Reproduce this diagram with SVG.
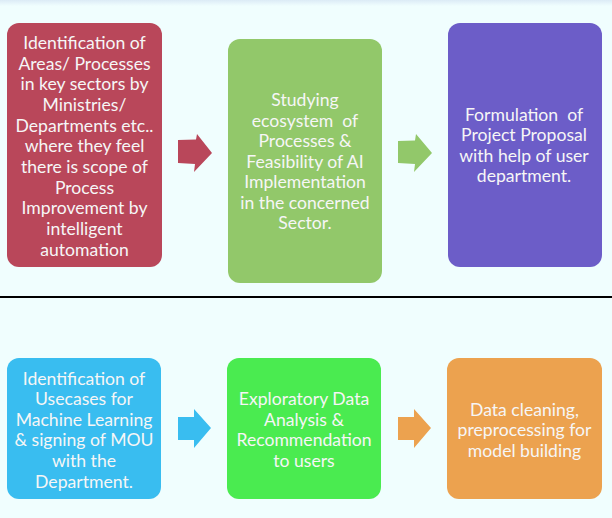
<svg xmlns="http://www.w3.org/2000/svg" width="612" height="518" viewBox="0 0 612 518">
<defs>
<linearGradient id="topband" x1="0" y1="0" x2="0" y2="1">
<stop offset="0" stop-color="#dcebf6"/>
<stop offset="1" stop-color="#f0fefe"/>
</linearGradient>
</defs>
<style>
.box{stroke:none}
.t{font-family:Lato,"Open Sans","Liberation Sans",sans-serif;font-size:17.6px;fill:#f6f6f6;text-anchor:middle;dominant-baseline:central;white-space:pre}
</style>
<rect x="0" y="0" width="612" height="518" fill="#f0fefe"/>
<rect x="0" y="0" width="612" height="6" fill="url(#topband)"/>
<line x1="0" y1="297" x2="612" y2="297" stroke="#000" stroke-width="2"/>

<g id="n1">
<rect class="box" x="7" y="23" width="155" height="244" rx="12" fill="#b9475a"/>
<text class="t" x="84.5"><tspan x="84.5" y="41.7">Identification of</tspan><tspan x="84.5" y="62.5">Areas/ Processes</tspan><tspan x="84.5" y="83.2">in key sectors by</tspan><tspan x="84.5" y="104">Ministries/</tspan><tspan x="84.5" y="124.6">Departments etc..</tspan><tspan x="84.5" y="145.3">where they feel</tspan><tspan x="84.5" y="166">there is scope of</tspan><tspan x="84.5" y="186.7">Process</tspan><tspan x="84.5" y="207.3">Improvement by</tspan><tspan x="84.5" y="228">intelligent</tspan><tspan x="84.5" y="248.5">automation</tspan></text>
</g>

<g id="n2">
<rect class="box" x="228" y="39" width="154" height="244" rx="12" fill="#92c86a"/>
<text class="t"><tspan x="305" y="99.3">Studying</tspan><tspan x="305" y="119.8">ecosystem  of</tspan><tspan x="305" y="140.3">Processes &amp;</tspan><tspan x="305" y="160.8">Feasibility of AI</tspan><tspan x="305" y="181.3">Implementation</tspan><tspan x="305" y="201.8">in the concerned</tspan><tspan x="305" y="222">Sector.</tspan></text>
</g>

<g id="n3">
<rect class="box" x="448" y="23" width="154" height="244" rx="12" fill="#6c5dc8"/>
<text class="t"><tspan x="524" y="113.5">Formulation  of</tspan><tspan x="524" y="134.2">Project Proposal</tspan><tspan x="524" y="154.6">with help of user</tspan><tspan x="524" y="175">department.</tspan></text>
</g>

<g id="n4">
<rect class="box" x="7" y="358" width="154" height="141" rx="12" fill="#39bdf0"/>
<text class="t"><tspan x="84" y="377.5">Identification of</tspan><tspan x="84" y="398">Usecases for</tspan><tspan x="84" y="418.5">Machine Learning</tspan><tspan x="84" y="439.3">&amp; signing of MOU</tspan><tspan x="84" y="460">with the</tspan><tspan x="84" y="480.7">Department.</tspan></text>
</g>

<g id="n5">
<rect class="box" x="227" y="358" width="154" height="141" rx="12" fill="#4aeb50"/>
<text class="t"><tspan x="304" y="398.3">Exploratory Data</tspan><tspan x="304" y="418.8">Analysis &amp;</tspan><tspan x="304" y="439.3">Recommendation</tspan><tspan x="304" y="460">to users</tspan></text>
</g>

<g id="n6">
<rect class="box" x="447" y="358" width="155" height="141" rx="12" fill="#eca24f"/>
<text class="t"><tspan x="524.5" y="408.5">Data cleaning,</tspan><tspan x="524.5" y="429">preprocessing for</tspan><tspan x="524.5" y="450">model building</tspan></text>
</g>

<g id="connectors">
<polygon points="178,140 196,139.5 197,134 212,153 194,172 195,164 178,163" fill="#b9475a"/>
<polygon points="398,141 415,140.5 416,134 432,153 414,172 415,164 398,163" fill="#92c86a"/>
<polygon points="178,417 194,417 194,409 211,428 194,448 194,440 178,440" fill="#39bdf0"/>
<polygon points="398,417 414,417 414,409 431,428 414,448 414,440 398,440" fill="#eca24f"/>
</g>
</svg>
